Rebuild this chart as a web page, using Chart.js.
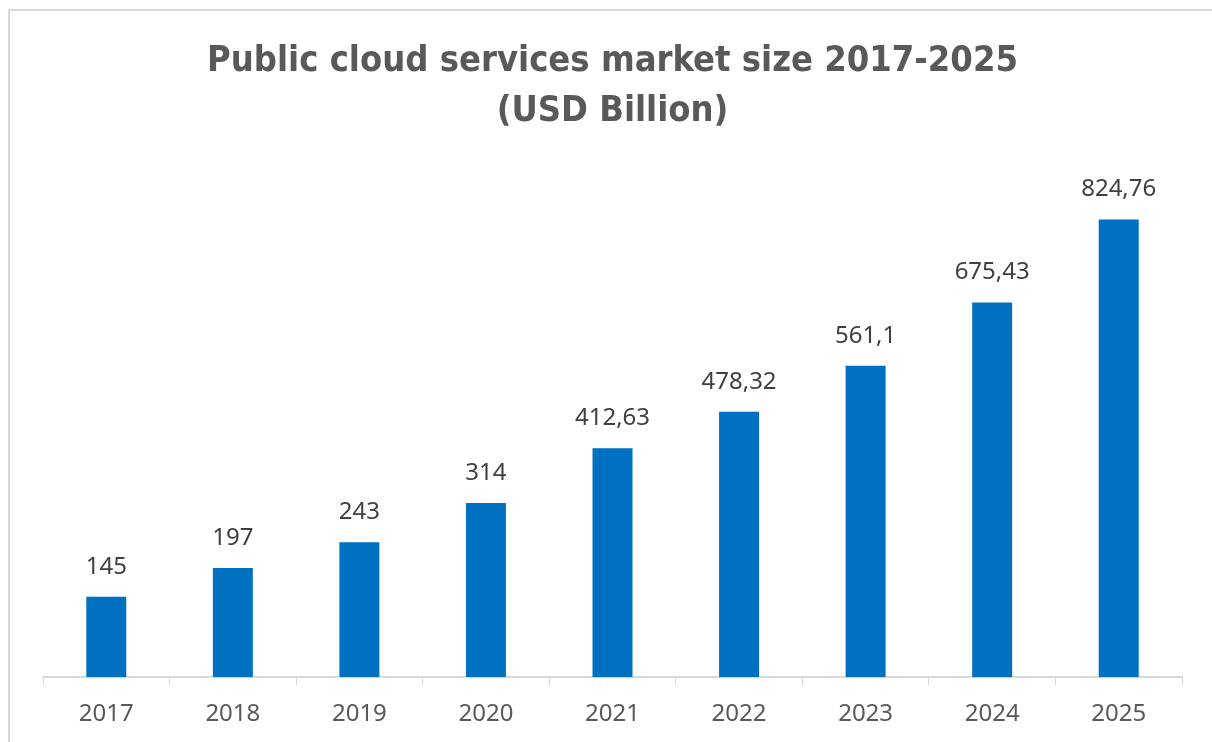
<!DOCTYPE html>
<html>
<head>
<meta charset="utf-8">
<script src="https://cdn.jsdelivr.net/npm/chart.js@4.4.1/dist/chart.umd.min.js"></script>
<style>
  html, body { margin: 0; padding: 0; background: #fff; overflow: hidden; }
  #frame {
    position: absolute; left: 8px; top: 9px; width: 1220px; height: 760px;
    border-top: 2px solid #d9d9d9; border-left: 2px solid #d9d9d9;
  }
  #wrap { position: absolute; left: 0; top: 0; width: 1212px; height: 749px; }
</style>
</head>
<body>
<div id="frame"></div>
<div id="wrap"><canvas id="barChart"></canvas></div>
<script>
const years = ["2017", "2018", "2019", "2020", "2021", "2022", "2023", "2024", "2025"];
const marketSize = [145, 197, 243, 314, 412.63, 478.32, 561.1, 675.43, 824.76];
const titleLines = ["Public cloud services market size 2017-2025", "(USD Billion)"];

// values above each bar, decimal comma
const valueLabels = {
  id: 'valueLabels',
  afterDatasetsDraw(chart) {
    const ctx = chart.ctx;
    const meta = chart.getDatasetMeta(0);
    ctx.save();
    ctx.font = '24px "Noto Sans", sans-serif';
    ctx.fillStyle = '#404040';
    ctx.textAlign = 'center';
    ctx.textBaseline = 'middle';
    meta.data.forEach((bar, i) => {
      const txt = String(marketSize[i]).replace('.', ',');
      ctx.fillText(txt, bar.x, bar.y - 30);
    });
    ctx.restore();
  }
};

let chart = new Chart(document.getElementById("barChart"), {
  type: 'bar',
  data: {
    labels: years,
    datasets: [{
      data: marketSize,
      backgroundColor: "#0070C0",
      categoryPercentage: 1,
      barPercentage: 0.316
    }]
  },
  options: {
    responsive: true,
    maintainAspectRatio: false,
    animation: false,
    layout: { padding: { left: 43, right: 30, top: 0, bottom: 5 } },
    plugins: {
      legend: { display: false },
      tooltip: { enabled: false },
      title: {
        display: true,
        text: titleLines,
        color: '#595959',
        font: { family: '"DejaVu Sans Condensed", "DejaVu Sans", sans-serif', size: 36, weight: 'bold', lineHeight: 1.4 },
        padding: { top: 36, bottom: 41 }
      }
    },
    scales: {
      x: {
        grid: { drawOnChartArea: false, color: '#d9d9d9', tickLength: 8, offset: true },
        border: { color: '#d9d9d9', width: 2 },
        ticks: { color: '#595959', font: { family: '"Noto Sans", sans-serif', size: 24 }, padding: 15 }
      },
      y: {
        display: false,
        min: 0,
        max: 900
      }
    }
  },
  plugins: [valueLabels]
});
</script>
</body>
</html>
